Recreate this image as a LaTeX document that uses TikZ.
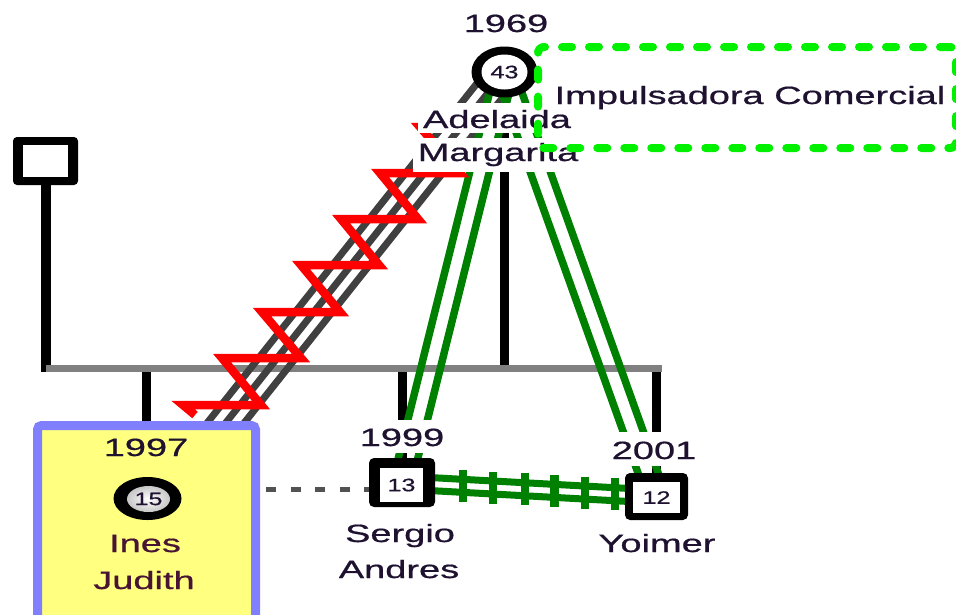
\documentclass[tikz,border=0pt]{standalone}
\usepackage{fontspec}
\setmainfont{Liberation Sans}
\newfontfamily\lblfont[FakeBold=0.6]{Liberation Sans}
\usepackage{graphicx}
\usetikzlibrary{shapes.geometric,calc}
\pgfdeclarelayer{bg}
\pgfsetlayers{bg,main}
\definecolor{txt}{RGB}{30,18,48}
\definecolor{inestxt}{RGB}{72,20,52}
\definecolor{dkgreen}{RGB}{0,128,0}
\definecolor{ltgreen}{RGB}{0,240,0}
\definecolor{hgray}{RGB}{128,128,128}
\definecolor{tgray}{RGB}{64,64,64}
\definecolor{boxyellow}{RGB}{255,255,128}
\definecolor{boxblue}{RGB}{128,128,255}
\newcommand{\wt}[1]{\scalebox{1.52}[1]{#1}}
\newcommand{\nm}[1]{\scalebox{1.4}[1]{\lblfont\fontsize{18}{20}\selectfont #1}}
\begin{document}
\begin{tikzpicture}[x=1pt,y=-1pt,
  lbl/.style={font=\lblfont\fontsize{25}{36}\selectfont, text=txt, inner sep=0pt, anchor=base},
  wbg/.style={lbl, fill=white, inner xsep=5pt},
  blkline/.style={draw=black, line width=9pt},
  hline/.style={draw=hgray, line width=7pt},
  gpair/.style={draw=dkgreen, line width=7.5pt},
  tline/.style={draw=tgray, line width=7pt},
  zig/.style={draw=red, line width=8.5pt, line join=miter},
  rail/.style={draw=dkgreen, line width=7pt},
  railtick/.style={draw=dkgreen, line width=8.5pt},
  dsh/.style={draw=black!68, line width=5pt, dash pattern=on 10pt off 14.5pt},
  outbox/.style={fill=black, inner sep=0pt},
  inbox/.style={fill=white, inner sep=0pt, text=txt},
]
\useasboundingbox (0,0) rectangle (956,614);

% people
\node[outbox, rounded corners=4pt, minimum width=65pt, minimum height=48pt] (fa) at (45.5,161) {};
\node[inbox, minimum width=45pt, minimum height=32pt] (fa-in) at (fa) {};
\node[outbox, ellipse, minimum width=66pt, minimum height=51pt] (mo) at (504.5,72) {};
\node[inbox, ellipse, minimum width=46pt, minimum height=35pt] (mo-in) at (mo) {\nm{43}};
\node[outbox, rounded corners=5pt, minimum width=66pt, minimum height=49pt] (s13) at (402,482.5) {};
\node[inbox, minimum width=43pt, minimum height=34pt] (s13-in) at (401.5,485) {\nm{13}};
\node[outbox, rounded corners=5pt, minimum width=63pt, minimum height=47pt] (y12) at (656.5,496.5) {};
\node[inbox, minimum width=47pt, minimum height=31pt] (y12-in) at (656.5,497.5) {\nm{12}};
\node[draw=boxblue, fill=boxyellow, line width=9pt, rounded corners=4pt, minimum width=218pt, minimum height=210pt, anchor=north, inner sep=0pt] (ib) at (146.5,421) {};
\node[outbox, ellipse, minimum width=68pt, minimum height=43pt] (ic) at (147.5,498.5) {};
\node[ellipse, inner sep=0pt, minimum width=43pt, minimum height=26pt, inner color=white, outer color=black!22, text=txt] (ic-in) at (148.5,499) {\nm{15}};

% labels
\node[lbl] (t1969) at (506,32) {\wt{1969}};
\node[wbg, text height=25pt, text depth=5pt] (tad) at (497,128) {\wt{Adelaida}};
\node[wbg, text height=23pt, text depth=11pt] (tmg) at (498,161) {\wt{Margarita}};
\node[lbl] (timp) at (750,104) {\wt{Impulsadora Comercial}};
\node[wbg, text height=26pt, text depth=7pt] (t1999) at (402,446) {\wt{1999}};
\node[wbg, text height=27pt, text depth=7pt] (t2001) at (654,459) {\wt{2001}};
\node[lbl] (t1997) at (146,456) {\wt{1997}};
\node[lbl, text=inestxt] (tines) at (145,552) {\wt{Ines}};
\node[lbl, text=inestxt] (tjud) at (144,589) {\wt{Judith}};
\node[lbl] (tser) at (400,542) {\wt{Sergio}};
\node[lbl] (tand) at (399,578) {\wt{Andres}};
\node[lbl] (tyoi) at (657,552) {\wt{Yoimer}};

% group box
\node[draw=ltgreen, line width=8pt, dash pattern=on 10pt off 17pt, line cap=round, rounded corners=6pt, minimum width=418pt, minimum height=101pt, inner sep=0pt] (gbox) at (747,97.5) {};

\begin{pgfonlayer}{bg}
\coordinate (hl0) at (46,368);
\coordinate (hl1) at (662,368);
\coordinate (hlf) at (45.5,372);
\draw[blkline, line width=10pt] (fa) -- (hlf);
\draw[blkline] (mo) -- (mo |- hl0);
\draw[blkline] (s13 |- hl0) -- (s13);
\draw[blkline] (y12 |- hl0) -- (y12);
\draw[blkline] (ib.north |- hl0) -- (ib.north);
\draw[hline] (hl0) -- (hl1);
\coordinate (ia) at (166,498);
\foreach \o in {-14.5pt,0pt,14.5pt}
  \draw[tline] ($(mo)!\o!90:(ia)$) -- ($(ia)!\o!-90:(mo)$);
\foreach \o in {-9.5pt,9.5pt} {
  \draw[gpair] ($(mo)!\o!90:(s13)$) -- ($(s13)!\o!-90:(mo)$);
  \draw[gpair] ($(mo)!\o!90:(y12)$) -- ($(y12)!\o!-90:(mo)$);
}
\draw[zig] (498,127) -- (420,127) -- (460,173) -- (380,173) -- (418,219) -- (341,219) -- (379,265) -- (301,265) -- (340,312) -- (262,312) -- (301,358) -- (222,358) -- (261,405) -- (183,405) -- (195,415);
\foreach \o in {-6.5pt,6.5pt}
  \draw[rail] ($(s13)!\o!90:(y12)$) -- ($(y12)!\o!-90:(s13)$);
\foreach \t in {0.24,0.358,0.483,0.60,0.72,0.837}
  \draw[railtick] ($(s13)!\t!(y12)+(0,-16)$) -- ($(s13)!\t!(y12)+(0,16)$);
\coordinate (dl) at (266,489);
\draw[dsh] (dl) -- (s13.west |- dl);
\end{pgfonlayer}
\end{tikzpicture}
\end{document}
